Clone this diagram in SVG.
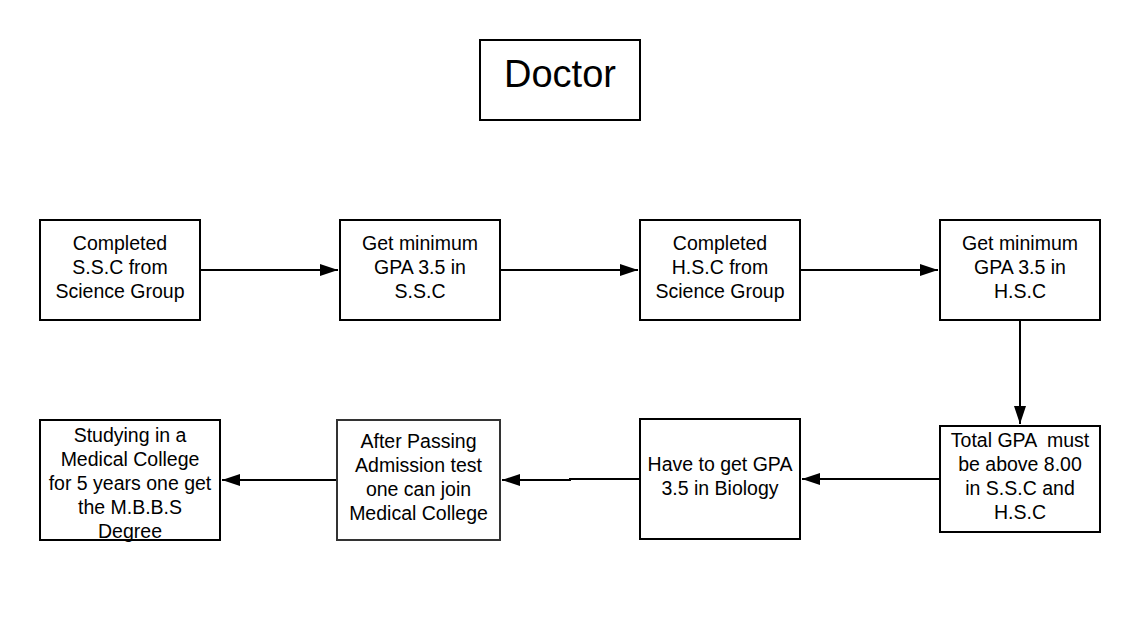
<svg xmlns="http://www.w3.org/2000/svg" width="1147" height="618" viewBox="0 0 1147 618">
<style>
.box{fill:#fff;stroke:#000;stroke-width:2}
.gray{stroke:#333}
.t{font-family:"Liberation Sans",Arial,sans-serif;font-size:19.5px;fill:#000;text-anchor:middle;white-space:pre}
.title{font-family:"Liberation Sans",Arial,sans-serif;font-size:38px;fill:#000;text-anchor:middle}
.c{fill:none;stroke:#000;stroke-width:2}
</style>
<defs>
<marker id="ah" viewBox="0 0 18 12" refX="18" refY="6" markerWidth="18" markerHeight="12" markerUnits="userSpaceOnUse" orient="auto">
<path d="M0,0 L18,6 L0,12 z" fill="#000"/>
</marker>
</defs>
<rect width="1147" height="618" fill="#fff"/>
<g id="connectors">
<line class="c" x1="200" y1="270" x2="338" y2="270" marker-end="url(#ah)"/>
<line class="c" x1="500" y1="270" x2="638" y2="270" marker-end="url(#ah)"/>
<line class="c" x1="800" y1="270" x2="938" y2="270" marker-end="url(#ah)"/>
<line class="c" x1="1020" y1="320" x2="1020" y2="424" marker-end="url(#ah)"/>
<line class="c" x1="940" y1="479" x2="802" y2="479" marker-end="url(#ah)"/>
<polyline class="c" points="640,479 570,479 570,480 502,480" marker-end="url(#ah)"/>
<line class="c" x1="337" y1="480" x2="222" y2="480" marker-end="url(#ah)"/>
</g>
<g id="doctor">
<rect class="box" x="480" y="40" width="160" height="80"/>
<text class="title" x="560" y="87">Doctor</text>
</g>
<g id="ssc">
<rect class="box" x="40" y="220" width="160" height="100"/>
<text class="t" x="120" y="250">Completed</text>
<text class="t" x="120" y="274">S.S.C from</text>
<text class="t" x="120" y="298">Science Group</text>
</g>
<g id="gpa-ssc">
<rect class="box" x="340" y="220" width="160" height="100"/>
<text class="t" x="420" y="250">Get minimum</text>
<text class="t" x="420" y="274">GPA 3.5 in</text>
<text class="t" x="420" y="298">S.S.C</text>
</g>
<g id="hsc">
<rect class="box" x="640" y="220" width="160" height="100"/>
<text class="t" x="720" y="250">Completed</text>
<text class="t" x="720" y="274">H.S.C from</text>
<text class="t" x="720" y="298">Science Group</text>
</g>
<g id="gpa-hsc">
<rect class="box" x="940" y="220" width="160" height="100"/>
<text class="t" x="1020" y="250">Get minimum</text>
<text class="t" x="1020" y="274">GPA 3.5 in</text>
<text class="t" x="1020" y="298">H.S.C</text>
</g>
<g id="total-gpa">
<rect class="box" x="940" y="426" width="160" height="106"/>
<text class="t" x="1020" y="447">Total GPA  must</text>
<text class="t" x="1020" y="471">be above 8.00</text>
<text class="t" x="1020" y="495">in S.S.C and</text>
<text class="t" x="1020" y="519">H.S.C</text>
</g>
<g id="biology">
<rect class="box" x="640" y="419" width="160" height="120"/>
<text class="t" x="720" y="471">Have to get GPA</text>
<text class="t" x="720" y="495">3.5 in Biology</text>
</g>
<g id="admission">
<rect class="box gray" x="337" y="420" width="163" height="120"/>
<text class="t" x="418.5" y="448">After Passing</text>
<text class="t" x="418.5" y="472">Admission test</text>
<text class="t" x="418.5" y="496">one can join</text>
<text class="t" x="418.5" y="520">Medical College</text>
</g>
<g id="mbbs">
<rect class="box" x="40" y="420" width="180" height="120"/>
<text class="t" x="130" y="442">Studying in a</text>
<text class="t" x="130" y="466">Medical College</text>
<text class="t" x="130" y="490">for 5 years one get</text>
<text class="t" x="130" y="514">the M.B.B.S</text>
<text class="t" x="130" y="538">Degree</text>
</g>
</svg>
